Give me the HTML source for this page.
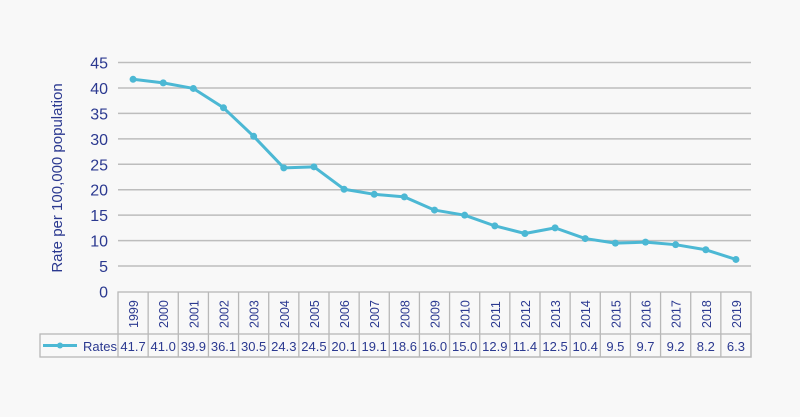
<!DOCTYPE html>
<html><head><meta charset="utf-8"><style>
html,body{margin:0;padding:0;background:#f8f8f8;}
svg{display:block;font-family:"Liberation Sans",sans-serif;}
</style></head><body>
<svg width="800" height="417" viewBox="0 0 800 417">
<g id="grid"></g>
<g id="yticks"></g>
<text transform="translate(62,178) rotate(-90)" text-anchor="middle" font-size="15" fill="#2b3990">Rate per 100,000 population</text>
<g id="table"></g>
<g id="series"></g>
</svg>
<script>
const years=["1999","2000","2001","2002","2003","2004","2005","2006","2007","2008","2009","2010","2011","2012","2013","2014","2015","2016","2017","2018","2019"];
const rates=[41.7,41.0,39.9,36.1,30.5,24.3,24.5,20.1,19.1,18.6,16.0,15.0,12.9,11.4,12.5,10.4,9.5,9.7,9.2,8.2,6.3];
const yTicks=[0,5,10,15,20,25,30,35,40,45];
const NS="http://www.w3.org/2000/svg";
const x0=118,x1=751,y0=291.5,yTop=62.5,yMax=45;
const cw=(x1-x0)/years.length;
const X=i=>x0+cw*(i+0.5);
const Y=v=>y0-(v/yMax)*(y0-yTop);
function mk(t,a,p){const e=document.createElementNS(NS,t);for(const k in a)e.setAttribute(k,a[k]);p.appendChild(e);return e;}
const grid=document.getElementById('grid'),yt=document.getElementById('yticks'),tb=document.getElementById('table'),sr=document.getElementById('series');
yTicks.forEach(v=>{
 if(v>0){const l=mk('line',{x1:x0,x2:x1,y1:Y(v),y2:Y(v),stroke:'#bdbdbd','stroke-width':1.5},grid);
 
 }
 const t=mk('text',{x:108,y:Y(v)+6,'text-anchor':'end','font-size':16,fill:'#2b3990'},yt);t.textContent=v;
 
 
});
const tTop=292,tMid=334,tBot=357,lx=40;
const st={stroke:'#b8b8b8','stroke-width':1.3,fill:'none'};
mk('rect',Object.assign({x:x0,y:tTop,width:x1-x0,height:tBot-tTop},st),tb);
mk('rect',Object.assign({x:lx,y:tMid,width:x1-lx,height:tBot-tMid},st),tb);
years.forEach((yr,i)=>{
 if(i>0)mk('line',Object.assign({x1:x0+cw*i,x2:x0+cw*i,y1:tTop,y2:tBot},st),tb);
 const t=mk('text',{transform:`translate(${X(i)+5},${tMid-6}) rotate(-90)`,'font-size':12.5,fill:'#2b3990'},tb);t.textContent=yr;
 
 
 const v=mk('text',{x:X(i),y:tBot-6,'text-anchor':'middle','font-size':13,fill:'#2b3990'},tb);v.textContent=rates[i].toFixed(1);
 
 
});
const lg=mk('g',{},tb);


mk('line',{x1:43,x2:77,y1:345.5,y2:345.5,stroke:'#4cb8d4','stroke-width':3},lg);
mk('circle',{cx:60,cy:345.5,r:3,fill:'#4cb8d4'},lg);
const lt=mk('text',{x:83,y:351,'font-size':13,fill:'#2b3990'},lg);lt.textContent='Rates';
mk('polyline',{points:rates.map((v,i)=>X(i)+','+Y(v)).join(' '),fill:'none',stroke:'#4cb8d4','stroke-width':3,'stroke-linejoin':'round'},sr);
rates.forEach((v,i)=>{const c=mk('circle',{cx:X(i),cy:Y(v),r:3.5,fill:'#4cb8d4'},sr);
 
 });
</script>
</body></html>
